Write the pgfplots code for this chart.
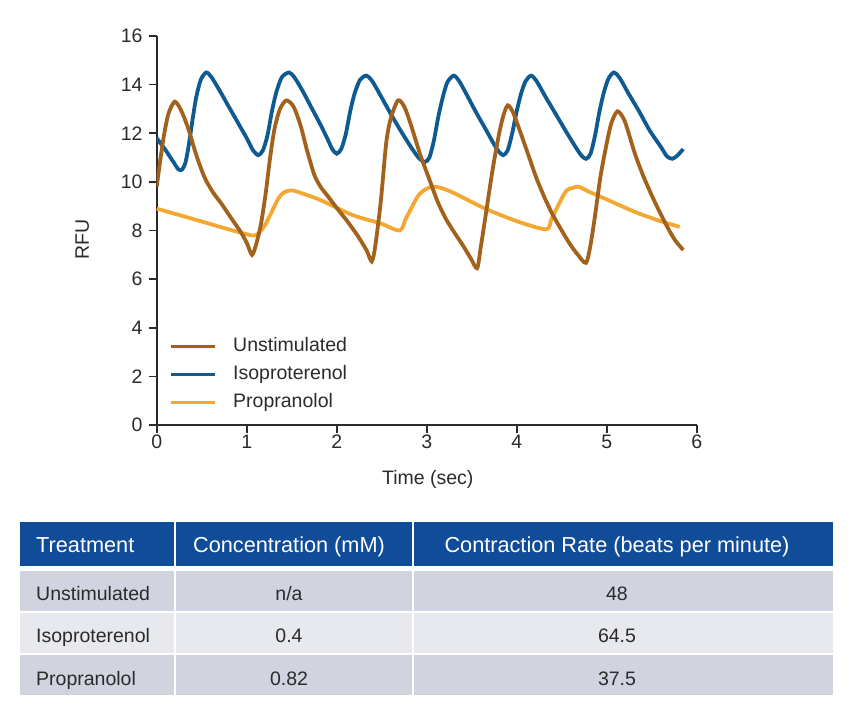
\documentclass[border=0pt]{standalone}
\usepackage{pgfplots}
\pgfplotsset{compat=1.18}
\usepackage{fontspec}
\setmainfont{Liberation Sans}
\definecolor{cUn}{HTML}{A2621B}
\definecolor{cIso}{HTML}{0F5A91}
\definecolor{cPro}{HTML}{F2A832}
\definecolor{cHead}{HTML}{114C98}
\definecolor{cRowA}{HTML}{D1D4DF}
\definecolor{cRowB}{HTML}{E7E9EF}
\definecolor{cTxt}{HTML}{2B2B2B}
\newcommand\fs{\fontsize{19.5bp}{23bp}\selectfont}
\newcommand\fh{\fontsize{21.7bp}{25bp}\selectfont}

\pgfplotstableread{
x y
0 9.8
0.04 10.9
0.08 11.9
0.13 12.8
0.2 13.3
0.27 12.95
0.35 12.2
0.44 11.1
0.53 10.2
0.62 9.6
0.72 9.1
0.82 8.55
0.93 7.96
1.0 7.5
1.06 7.0
1.11 7.5
1.16 8.3
1.21 9.5
1.26 11.0
1.31 12.2
1.37 13.0
1.44 13.35
1.52 13.1
1.6 12.3
1.67 11.3
1.75 10.3
1.82 9.8
1.9 9.42
2.0 8.93
2.12 8.37
2.23 7.8
2.33 7.2
2.39 6.73
2.43 7.4
2.49 9.2
2.55 11.6
2.6 12.6
2.68 13.35
2.75 13.1
2.82 12.4
2.93 11.1
3.03 10.1
3.12 9.2
3.21 8.5
3.3 7.96
3.4 7.4
3.49 6.85
3.56 6.45
3.6 7.3
3.65 8.5
3.73 10.45
3.8 11.9
3.85 12.7
3.9 13.15
3.96 12.85
4.04 12.05
4.13 11.1
4.22 10.15
4.31 9.35
4.4 8.65
4.5 8.0
4.59 7.45
4.68 7.0
4.77 6.67
4.82 7.4
4.87 8.6
4.93 10.2
4.99 11.4
5.05 12.4
5.12 12.9
5.2 12.5
5.31 11.2
5.4 10.3
5.5 9.45
5.59 8.75
5.68 8.1
5.76 7.6
5.85 7.2
}\unstim

\pgfplotstableread{
x y
0 11.8
0.1 11.3
0.18 10.85
0.24 10.52
0.28 10.5
0.32 10.8
0.36 11.6
0.4 12.6
0.44 13.5
0.49 14.2
0.55 14.5
0.61 14.3
0.7 13.75
0.8 13.1
0.9 12.45
1.0 11.8
1.07 11.3
1.13 11.1
1.18 11.3
1.23 11.9
1.28 12.9
1.33 13.7
1.39 14.3
1.47 14.5
1.53 14.3
1.62 13.75
1.72 13.05
1.82 12.35
1.9 11.75
1.95 11.35
2.0 11.16
2.05 11.35
2.1 11.95
2.15 12.9
2.2 13.65
2.26 14.2
2.33 14.37
2.39 14.17
2.48 13.6
2.6 12.8
2.72 12.05
2.84 11.35
2.92 10.95
2.98 10.82
3.03 11.0
3.08 11.7
3.13 12.7
3.18 13.5
3.23 14.1
3.3 14.37
3.36 14.15
3.45 13.55
3.55 12.85
3.65 12.2
3.74 11.6
3.8 11.25
3.85 11.1
3.9 11.3
3.95 12.0
4.0 12.9
4.05 13.65
4.1 14.15
4.16 14.37
4.22 14.15
4.32 13.5
4.44 12.75
4.56 12.0
4.66 11.4
4.72 11.08
4.77 10.95
4.82 11.15
4.87 11.9
4.92 12.9
4.97 13.7
5.02 14.25
5.08 14.5
5.14 14.3
5.24 13.65
5.36 12.9
5.48 12.1
5.6 11.45
5.67 11.05
5.73 10.95
5.79 11.1
5.85 11.35
}\iso

\pgfplotstableread{
x y
0 8.9
0.38 8.5
0.75 8.1
1.0 7.85
1.1 7.8
1.2 8.2
1.35 9.3
1.42 9.58
1.5 9.65
1.6 9.55
1.82 9.25
2.18 8.63
2.48 8.3
2.7 8.0
2.77 8.5
2.9 9.4
2.99 9.7
3.1 9.8
3.28 9.58
3.65 8.9
4.02 8.36
4.33 8.05
4.39 8.5
4.54 9.58
4.62 9.75
4.69 9.8
4.8 9.6
4.98 9.31
5.31 8.77
5.57 8.42
5.81 8.15
}\prop

\begin{document}
\begin{tikzpicture}
\path[use as bounding box] (0bp,0bp) rectangle (850bp,-707bp);
\begin{axis}[
  at={(156.7bp,-425bp)}, anchor=south west,
  scale only axis, width=540bp, height=389bp,
  xmin=0, xmax=6, ymin=0, ymax=16,
  axis x line*=bottom, axis y line*=left,
  axis line style={line width=1.6bp, color=cTxt, -},
  xtick={0,1,...,6}, ytick={0,2,...,16},
  tick align=outside, major tick length=8bp,
  tick style={line width=1.6bp, color=cTxt},
  ticklabel style={font=\fs, text=cTxt},
  /pgf/number format/assume math mode=true,
  xticklabel style={inner sep=0pt, yshift=-2bp},
  yticklabel style={inner sep=0pt, xshift=-6bp},
  xlabel={Time (sec)}, ylabel={RFU},
  label style={font=\fs, text=cTxt},
  xlabel style={at={(rel axis cs:0.502,-0.141)}, anchor=center},
  ylabel style={at={(rel axis cs:-0.138,0.476)}, anchor=center},
  legend style={at={(axis cs:0.137,3.62)}, anchor=north west, draw=none, fill=none,
    inner sep=0pt, row sep=10bp, font=\fs, text=cTxt,
    nodes={inner sep=0pt, text height=14bp, text depth=4bp},
    /tikz/every odd column/.append style={column sep=17bp}},
  legend cell align=left,
  legend image code/.code={\draw[#1, line width=3bp] (0bp,0bp) -- (44bp,0bp);},
]
\addlegendimage{cUn}
\addlegendentry{Unstimulated}
\addlegendimage{cIso}
\addlegendentry{Isoproterenol}
\addlegendimage{cPro}
\addlegendentry{Propranolol}
\addplot[cPro, line width=3.8bp, smooth, tension=0.45, forget plot] table {\prop};
\addplot[cIso, line width=3.8bp, smooth, tension=0.45, forget plot] table {\iso};
\addplot[cUn, line width=3.8bp, smooth, tension=0.45, forget plot] table {\unstim};
\end{axis}
% table
\begin{scope}[x=1bp,y=1bp]
\fill[cHead] (20,-522) rectangle (174,-566);
\fill[cHead] (176,-522) rectangle (412,-566);
\fill[cHead] (414,-522) rectangle (833,-566);
\fill[cRowA] (20,-571) rectangle (174,-611);
\fill[cRowA] (176,-571) rectangle (412,-611);
\fill[cRowA] (414,-571) rectangle (833,-611);
\fill[cRowB] (20,-613) rectangle (174,-653);
\fill[cRowB] (176,-613) rectangle (412,-653);
\fill[cRowB] (414,-613) rectangle (833,-653);
\fill[cRowA] (20,-655) rectangle (174,-695);
\fill[cRowA] (176,-655) rectangle (412,-695);
\fill[cRowA] (414,-655) rectangle (833,-695);
\begin{scope}[every node/.style={inner sep=0pt, anchor=base}]
\node[anchor=base west, text=white, font=\fh] at (36,-552.3) {Treatment};
\node[text=white, font=\fh] at (289,-552.3) {Concentration (mM)};
\node[text=white, font=\fh] at (617,-552.3) {Contraction Rate (beats per minute)};
\node[anchor=base west, text=cTxt, font=\fs] at (36,-600.7) {Unstimulated};
\node[text=cTxt, font=\fs] at (289,-600.7) {n/a};
\node[text=cTxt, font=\fs] at (617,-600.7) {48};
\node[anchor=base west, text=cTxt, font=\fs] at (36,-642.7) {Isoproterenol};
\node[text=cTxt, font=\fs] at (289,-642.7) {0.4};
\node[text=cTxt, font=\fs] at (617,-642.7) {64.5};
\node[anchor=base west, text=cTxt, font=\fs] at (36,-685) {Propranolol};
\node[text=cTxt, font=\fs] at (289,-685) {0.82};
\node[text=cTxt, font=\fs] at (617,-685) {37.5};
\end{scope}
\end{scope}
\end{tikzpicture}
\end{document}
